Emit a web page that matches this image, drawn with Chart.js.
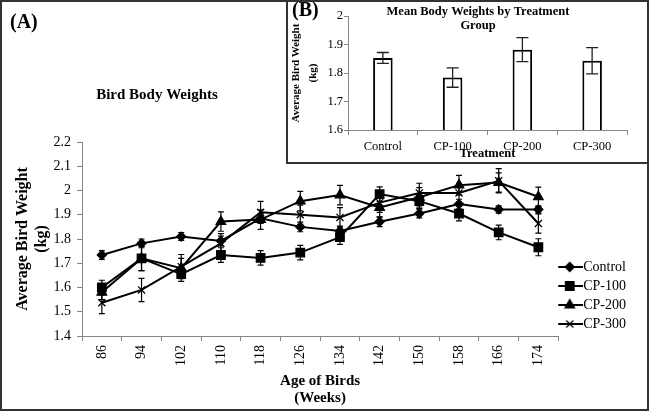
<!DOCTYPE html>
<html><head><meta charset="utf-8">
<script src="https://cdn.jsdelivr.net/npm/chart.js@4/dist/chart.umd.min.js"></script>
<style>
html,body{margin:0;padding:0;background:#fff;}
#wrap{position:relative;width:649px;height:411px;overflow:hidden;background:#fff;font-family:'Liberation Serif',serif;}
#main{position:absolute;left:0;top:0;}
#inset{position:absolute;left:286px;top:0;width:363px;height:164px;box-sizing:border-box;border-left:2px solid #333;border-bottom:2px solid #333;background:#fff;}
#insetCanvas{position:absolute;left:0;top:0;}
#frame{position:absolute;left:0;top:0;width:649px;height:411px;box-sizing:border-box;border:2px solid #333;pointer-events:none;}
.panel{position:absolute;font:bold 20px 'Liberation Serif',serif;line-height:20px;color:#000;white-space:nowrap;}
</style></head>
<body><div id="wrap">
<canvas id="main" width="649" height="411"></canvas>
<div class="panel" style="left:10px;top:11px">(A)</div>
<div id="inset"><canvas id="insetCanvas" width="361" height="162"></canvas>
<div class="panel" style="left:4px;top:-1px">(B)</div></div>
<div id="frame"></div>
</div>
<script>
// ---- Panel A data: weekly mean body weight (kg) and error (+/-) ----
const weeks = ['86','94','102','110','118','126','134','142','150','158','166','174'];
const controlMean = [1.734,1.782,1.810,1.792,1.885,1.850,1.833,1.871,1.905,1.944,1.922,1.922];
const controlErr  = [0.018,0.018,0.016,0.020,0.020,0.020,0.020,0.020,0.018,0.020,0.015,0.015];
const cp100Mean   = [1.600,1.720,1.655,1.734,1.722,1.744,1.808,1.985,1.956,1.905,1.827,1.766];
const cp100Err    = [0.030,0.050,0.030,0.030,0.030,0.030,0.030,0.030,0.030,0.030,0.030,0.035];
const cp200Mean   = [1.580,1.720,1.680,1.872,1.880,1.956,1.981,1.930,1.972,2.022,2.033,1.974];
const cp200Err    = [0.030,0.050,0.040,0.040,0.040,0.040,0.040,0.040,0.040,0.040,0.040,0.040];
const cp300Mean   = [1.537,1.590,1.686,1.782,1.910,1.900,1.889,1.950,1.990,1.990,2.040,1.864];
const cp300Err    = [0.045,0.048,0.050,0.040,0.045,0.040,0.040,0.040,0.040,0.040,0.050,0.040];

// ---- Panel B data: mean by treatment group ----
const groups    = ['Control','CP-100','CP-200','CP-300'];
const groupMean = [1.853,1.784,1.882,1.843];
const groupErr  = [0.019,0.034,0.042,0.046];

Chart.defaults.font.family = "'Liberation Serif', 'Times New Roman', serif";
Chart.defaults.color = '#000';

const AXIS = '#868686';
const fmt = v => String(Number(Number(v).toFixed(2)));

const errorBars = {
  id: 'errorBars',
  draw(chart, opts) {
    const ctx = chart.ctx, yScale = chart.scales.y;
    chart.data.datasets.forEach((ds, di) => {
      const meta = chart.getDatasetMeta(di);
      if (!ds.errors || meta.hidden) return;
      ctx.save();
      ctx.strokeStyle = opts.color || '#000';
      ctx.lineWidth = opts.lineWidth || 1;
      meta.data.forEach((el, i) => {
        const v = ds.data[i], e = ds.errors[i];
        const x = el.x;
        const y1 = yScale.getPixelForValue(v + e), y2 = yScale.getPixelForValue(v - e);
        ctx.beginPath();
        ctx.moveTo(x, y1); ctx.lineTo(x, y2);
        ctx.moveTo(x - opts.cap, y1); ctx.lineTo(x + opts.cap, y1);
        ctx.moveTo(x - opts.cap, y2); ctx.lineTo(x + opts.cap, y2);
        ctx.stroke();
      });
      ctx.restore();
    });
  },
  beforeDatasetsDraw(chart, args, opts) { if (!opts.after) this.draw(chart, opts); },
  afterDatasetsDraw(chart, args, opts) { if (opts.after) this.draw(chart, opts); }
};

const titleMover = {
  id: 'titleMover',
  afterLayout(chart, args, opts) {
    const t = chart.titleBlock;
    if (!t || opts.centerX === undefined) return;
    t.left = opts.centerX - opts.halfWidth;
    t.right = opts.centerX + opts.halfWidth;
    t.width = 2 * opts.halfWidth;
  }
};

const styles = [
  {style: 'rectRot', radius: 4.5},
  {style: 'rect', radius: 6},
  {style: 'triangle', radius: 5.5},
  {style: 'crossRot', radius: 5}
];

function legendImage(s) {
  const c = document.createElement('canvas');
  c.width = 26; c.height = 14;
  const g = c.getContext('2d');
  g.strokeStyle = '#000'; g.lineWidth = 2;
  g.beginPath(); g.moveTo(0, 7); g.lineTo(26, 7); g.stroke();
  g.fillStyle = '#000'; g.lineWidth = 1.3;
  Chart.helpers.drawPoint(g, {pointStyle: s.style, radius: s.radius, rotation: 0, borderWidth: 1.3}, 13, 7);
  return c;
}
const legendImgs = styles.map(legendImage);

function series(label, data, errors, k) {
  return {
    label, data, errors,
    borderColor: '#000', backgroundColor: '#000', borderWidth: 2,
    pointStyle: styles[k].style, pointRadius: styles[k].radius,
    pointBackgroundColor: '#000', pointBorderColor: '#000', pointBorderWidth: 1.3,
    tension: 0, fill: false
  };
}

new Chart(document.getElementById('main'), {
  type: 'line',
  data: {
    labels: weeks,
    datasets: [
      series('Control', controlMean, controlErr, 0),
      series('CP-100', cp100Mean, cp100Err, 1),
      series('CP-200', cp200Mean, cp200Err, 2),
      series('CP-300', cp300Mean, cp300Err, 3)
    ]
  },
  options: {
    responsive: false, animation: false,
    layout: {padding: {left: 0, right: 13, top: 0, bottom: 0}},
    plugins: {
      title: {display: true, text: 'Bird Body Weights', font: {size: 15, weight: 'bold', lineHeight: 1.2},
              padding: {top: 86, bottom: 38}, color: '#000'},
      titleMover: {centerX: 157, halfWidth: 100},
      legend: {
        position: 'right', align: 'end', fullSize: false,
        labels: {
          usePointStyle: true, pointStyleWidth: 13, padding: 5,
          font: {size: 14}, color: '#000',
          generateLabels(chart) {
            const items = Chart.defaults.plugins.legend.labels.generateLabels(chart);
            items.forEach((it, i) => { it.pointStyle = legendImgs[i]; });
            return items;
          }
        }
      },
      tooltip: {enabled: false},
      errorBars: {cap: 3, lineWidth: 1.2, color: '#000', after: false}
    },
    scales: {
      x: {
        type: 'category', offset: true,
        grid: {display: true, drawOnChartArea: false, offset: true, tickLength: 5, color: AXIS},
        border: {color: AXIS},
        ticks: {minRotation: 90, maxRotation: 90, padding: 4, autoSkip: false, font: {size: 14}, color: '#000'},
        title: {display: true, text: ['Age of Birds', '(Weeks)'], font: {size: 15, weight: 'bold', lineHeight: 1.1},
                padding: {top: 0, bottom: 4.75}, color: '#000'},
        afterFit(s) { s.height = 75; }
      },
      y: {
        min: 1.4, max: 2.2,
        ticks: {stepSize: 0.1, padding: 6, font: {size: 14}, color: '#000', callback: fmt},
        grid: {display: true, drawOnChartArea: false, tickLength: 5, color: AXIS},
        border: {color: AXIS},
        title: {display: true, text: ['Average Bird Weight', '(kg)'], font: {size: 16, weight: 'bold', lineHeight: 1.19},
                padding: {top: 13.5, bottom: 0}, color: '#000'},
        afterFit(s) { s.width = 82; }
      }
    }
  },
  plugins: [errorBars, titleMover]
});

new Chart(document.getElementById('insetCanvas'), {
  type: 'bar',
  data: {
    labels: groups,
    datasets: [{
      label: 'Mean Body Weight', data: groupMean, errors: groupErr,
      backgroundColor: '#fff', borderColor: '#000', borderWidth: 2, borderSkipped: false,
      barPercentage: 0.28, categoryPercentage: 1
    }]
  },
  options: {
    responsive: false, animation: false,
    layout: {padding: {left: 0, right: 22, top: 0, bottom: 0}},
    plugins: {
      legend: {display: false},
      tooltip: {enabled: false},
      title: {display: true, text: ['Mean Body Weights by Treatment', 'Group'],
              font: {size: 12.5, weight: 'bold', lineHeight: 1.12}, padding: {top: 5, bottom: -17}, color: '#000'},
      titleMover: {centerX: 190, halfWidth: 150},
      errorBars: {cap: 6, lineWidth: 1.3, color: '#222', after: true}
    },
    scales: {
      x: {
        grid: {display: true, drawOnChartArea: false, offset: true, tickLength: 5, color: AXIS},
        border: {color: AXIS},
        ticks: {padding: 4, font: {size: 12.5}, color: '#000'},
        title: {display: true, text: 'Treatment', font: {size: 12.5, weight: 'bold', lineHeight: 1.1},
                padding: {top: 0, bottom: 1}, color: '#000'},
        afterFit(s) { s.height = 32; }
      },
      y: {
        min: 1.6, max: 2.0,
        ticks: {stepSize: 0.1, padding: 1, font: {size: 12.5}, color: '#000', callback: fmt},
        grid: {display: true, drawOnChartArea: false, tickLength: 4, color: AXIS},
        border: {color: AXIS},
        title: {display: true, text: ['Average Bird Weight', '(kg)'], font: {size: 11, weight: 'bold', lineHeight: 1.55},
                padding: {top: 0, bottom: 0}, color: '#000'},
        afterFit(s) { s.width = 60; }
      }
    }
  },
  plugins: [errorBars, titleMover]
});
</script>
</body></html>
